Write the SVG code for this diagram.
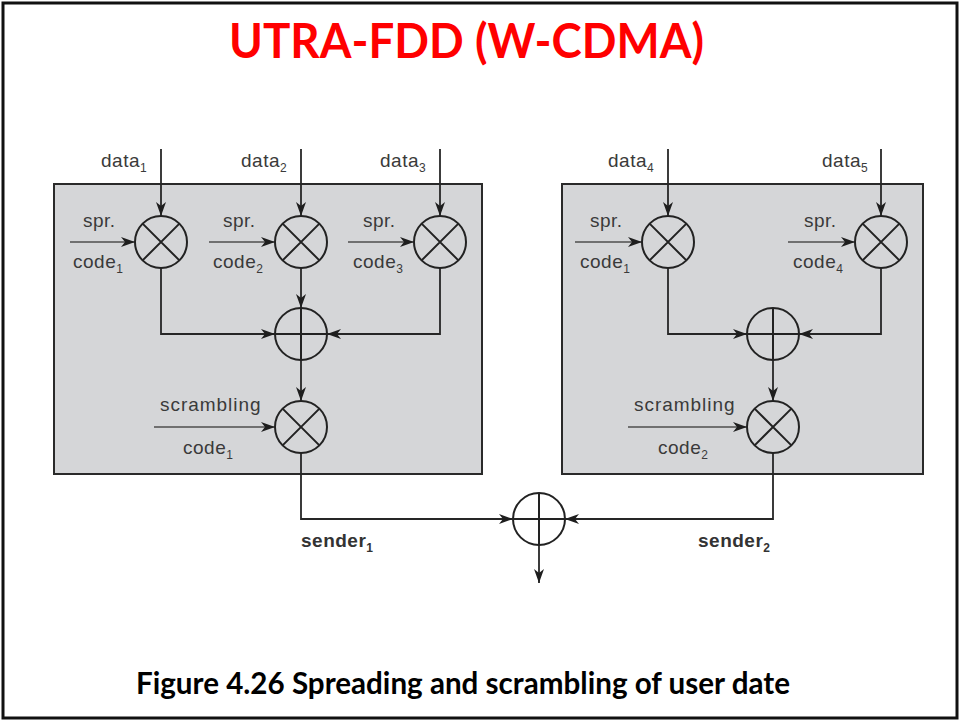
<svg xmlns="http://www.w3.org/2000/svg" width="960" height="721" viewBox="0 0 960 721">
  <style>
    .frame { fill: #ffffff; stroke: #111111; stroke-width: 3; }
    .box { fill: #d5d6d8; stroke: #2a2a2a; stroke-width: 2; }
    .op { fill: none; stroke: #222222; stroke-width: 2; }
    .wire { fill: none; stroke: #262626; stroke-width: 1.8; }
    .code { fill: none; stroke: #707070; stroke-width: 2.2; }
    .lbl { font-family: "Liberation Sans", Arial, sans-serif; font-size: 19px; fill: #3a3a3a; letter-spacing: 0.5px; }
    .bold { font-weight: bold; fill: #333333; }
    .sub { font-size: 12px; }
    .title { font-family: Lato, "Open Sans", sans-serif; font-weight: bold; font-size: 48px; fill: #ff0000; }
    .caption { font-family: Lato, "Open Sans", sans-serif; font-weight: bold; font-size: 30px; fill: #000000; }
  </style>
  <defs>
    <marker id="arrow" markerUnits="userSpaceOnUse" markerWidth="14" markerHeight="10" refX="14" refY="5" orient="auto">
      <path d="M0,0 L14,5 L0,10 L4,5 z" fill="#1e1e1e"/>
    </marker>
    <!-- multiplier: circle with a cross -->
    <g id="mul">
      <circle cx="0" cy="0" r="26" class="op"/>
      <path d="M-18.4,-18.4 L18.4,18.4 M-18.4,18.4 L18.4,-18.4" class="op"/>
    </g>
    <!-- adder: circle with a plus -->
    <g id="add">
      <circle cx="0" cy="0" r="26" class="op"/>
      <path d="M0,-26 V26 M-26,0 H26" class="op"/>
    </g>
  </defs>

  <rect x="3" y="3" width="954" height="715" class="frame"/>

  <text x="229" y="58" class="title" textLength="475" lengthAdjust="spacingAndGlyphs">UTRA-FDD (W-CDMA)</text>

  <!-- sender blocks -->
  <g id="sender1-block">
    <rect x="54" y="184" width="428" height="290" class="box"/>
  </g>
  <g id="sender2-block">
    <rect x="562" y="184" width="361" height="290" class="box"/>
  </g>

  <!-- connectors -->
  <g id="connectors">
    <!-- data inputs -->
    <path d="M161,149 V216" class="wire" marker-end="url(#arrow)"/>
    <path d="M301,149 V216" class="wire" marker-end="url(#arrow)"/>
    <path d="M440,149 V216" class="wire" marker-end="url(#arrow)"/>
    <path d="M668,149 V216" class="wire" marker-end="url(#arrow)"/>
    <path d="M881,149 V216" class="wire" marker-end="url(#arrow)"/>
    <!-- spreading codes -->
    <path d="M70,242 H135" class="code" marker-end="url(#arrow)"/>
    <path d="M209,242 H275" class="code" marker-end="url(#arrow)"/>
    <path d="M348,242 H414" class="code" marker-end="url(#arrow)"/>
    <path d="M575,242 H642" class="code" marker-end="url(#arrow)"/>
    <path d="M788,242 H855" class="code" marker-end="url(#arrow)"/>
    <!-- sums of spread channels -->
    <path d="M161,268 V334 H275" class="wire" marker-end="url(#arrow)"/>
    <path d="M301,268 V308" class="wire" marker-end="url(#arrow)"/>
    <path d="M440,268 V334 H327" class="wire" marker-end="url(#arrow)"/>
    <path d="M668,268 V334 H747" class="wire" marker-end="url(#arrow)"/>
    <path d="M881,268 V334 H799" class="wire" marker-end="url(#arrow)"/>
    <path d="M301,360 V401" class="wire" marker-end="url(#arrow)"/>
    <path d="M773,360 V401" class="wire" marker-end="url(#arrow)"/>
    <!-- scrambling codes -->
    <path d="M154,427 H275" class="code" marker-end="url(#arrow)"/>
    <path d="M628,427 H747" class="code" marker-end="url(#arrow)"/>
    <!-- sender outputs -->
    <path d="M301,453 V519 H513" class="wire" marker-end="url(#arrow)"/>
    <path d="M773,453 V519 H565" class="wire" marker-end="url(#arrow)"/>
    <path d="M539,545 V583" class="wire" marker-end="url(#arrow)"/>
  </g>

  <!-- operators -->
  <g id="mul1"><use href="#mul" x="161" y="242"/></g>
  <g id="mul2"><use href="#mul" x="301" y="242"/></g>
  <g id="mul3"><use href="#mul" x="440" y="242"/></g>
  <g id="mul4"><use href="#mul" x="668" y="242"/></g>
  <g id="mul5"><use href="#mul" x="881" y="242"/></g>
  <g id="add1"><use href="#add" x="301" y="334"/></g>
  <g id="add2"><use href="#add" x="773" y="334"/></g>
  <g id="scr1"><use href="#mul" x="301" y="427"/></g>
  <g id="scr2"><use href="#mul" x="773" y="427"/></g>
  <g id="add-out"><use href="#add" x="539" y="519"/></g>

  <!-- labels -->
  <g id="labels">
    <text x="101" y="167" class="lbl">data<tspan class="sub" dy="5">1</tspan></text>
    <text x="241" y="167" class="lbl">data<tspan class="sub" dy="5">2</tspan></text>
    <text x="380" y="167" class="lbl">data<tspan class="sub" dy="5">3</tspan></text>
    <text x="608" y="167" class="lbl">data<tspan class="sub" dy="5">4</tspan></text>
    <text x="822" y="167" class="lbl">data<tspan class="sub" dy="5">5</tspan></text>

    <text x="83" y="227" class="lbl">spr.</text>
    <text x="223" y="227" class="lbl">spr.</text>
    <text x="363" y="227" class="lbl">spr.</text>
    <text x="590" y="227" class="lbl">spr.</text>
    <text x="804" y="227" class="lbl">spr.</text>

    <text x="73" y="268" class="lbl">code<tspan class="sub" dy="5">1</tspan></text>
    <text x="213" y="268" class="lbl">code<tspan class="sub" dy="5">2</tspan></text>
    <text x="353" y="268" class="lbl">code<tspan class="sub" dy="5">3</tspan></text>
    <text x="580" y="268" class="lbl">code<tspan class="sub" dy="5">1</tspan></text>
    <text x="793" y="268" class="lbl">code<tspan class="sub" dy="5">4</tspan></text>

    <text x="160" y="411" class="lbl" textLength="101">scrambling</text>
    <text x="183" y="454" class="lbl">code<tspan class="sub" dy="5">1</tspan></text>
    <text x="634" y="411" class="lbl" textLength="101">scrambling</text>
    <text x="658" y="454" class="lbl">code<tspan class="sub" dy="5">2</tspan></text>

    <text x="301" y="547" class="lbl bold">sender<tspan class="sub" dy="5">1</tspan></text>
    <text x="698" y="547" class="lbl bold">sender<tspan class="sub" dy="5">2</tspan></text>
  </g>

  <text x="136" y="694" class="caption" textLength="654" lengthAdjust="spacingAndGlyphs">Figure 4.26 Spreading and scrambling of user date</text>
</svg>
